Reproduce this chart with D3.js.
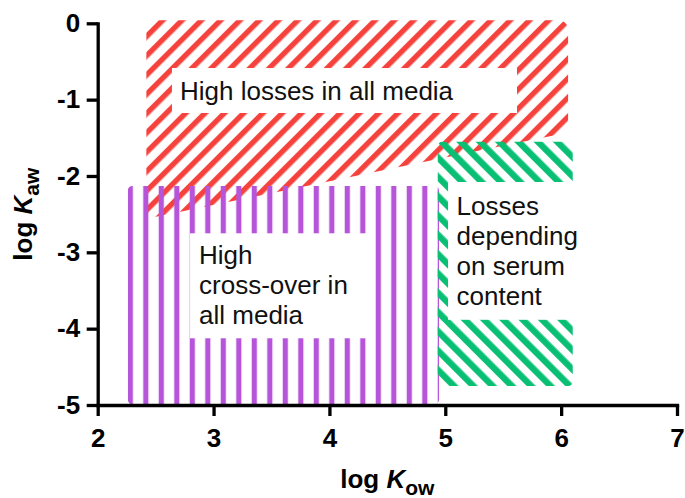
<!DOCTYPE html>
<html>
<head>
<meta charset="utf-8">
<script src="https://cdn.jsdelivr.net/npm/d3@7"></script>
<style>
  html, body { margin: 0; padding: 0; background: #fff; }
  svg { display: block; font-family: "Liberation Sans", Arial, Helvetica, sans-serif; }
</style>
</head>
<body>
<svg id="chart" width="685" height="498"></svg>
<script>
// Axis domains and tick values
const xDomain = [2, 7];
const yDomain = [-5, 0];
const xTicks = [2, 3, 4, 5, 6, 7];
const yTicks = [0, -1, -2, -3, -4, -5];

// Regions as polygons of (log Kow, log Kaw) corners
const lossRegion = [[2.42, 0.04], [6.06, 0.04], [6.06, -1.43], [2.42, -2.56]];
const crossRegion = [[2.26, -2.13], [4.946, -2.13], [4.946, -4.99], [2.26, -4.99]];
const serumRegion = [[4.935, -1.55], [6.10, -1.55], [6.10, -4.75], [4.935, -4.75]];

// Label boxes as [xMin, yMax, xMax, yMin] in axis units, with their lines of text
const lossBox = [2.641, -0.586, 5.619, -1.175];
const crossBox = [2.797, -2.751, 4.379, -4.126];
const serumBox = [5.024, -2.079, 6.13, -3.884];
const lossLabel = ["High losses in all media"];
const crossLabel = ["High", "cross-over in", "all media"];
const serumLabel = ["Losses", "depending", "on serum", "content"];

const svg = d3.select("#chart");

const x = d3.scaleLinear().domain(xDomain).range([97.7, 677]);
const y = d3.scaleLinear().domain(yDomain).range([405, 23.3]);

// Hatch patterns
const defs = svg.append("defs");
function stripes(id, color, period, width, offset, angle) {
  const p = defs.append("pattern")
    .attr("id", id)
    .attr("patternUnits", "userSpaceOnUse")
    .attr("width", period)
    .attr("height", 20);
  if (angle) p.attr("patternTransform", `rotate(${angle})`);
  [0, -period].forEach(shift => {
    p.append("rect")
      .attr("x", offset - width / 2 + shift)
      .attr("y", 0)
      .attr("width", width)
      .attr("height", 20)
      .attr("fill", color);
  });
}
stripes("hatch-red", "#f5423c", 13.65, 5.4, 6.55, 45);
stripes("hatch-purple", "#b655d9", 15.5, 5.2, 6.3, 0);
stripes("hatch-green", "#08bf74", 13.65, 6.4, 7.15, -45);

// Polygon with softened corners
function roundedPath(pts, r) {
  const n = pts.length;
  let d = "";
  for (let i = 0; i < n; i++) {
    const p0 = pts[(i - 1 + n) % n], p1 = pts[i], p2 = pts[(i + 1) % n];
    const l1 = Math.hypot(p0[0] - p1[0], p0[1] - p1[1]);
    const l2 = Math.hypot(p2[0] - p1[0], p2[1] - p1[1]);
    const a = [p1[0] + (p0[0] - p1[0]) / l1 * r, p1[1] + (p0[1] - p1[1]) / l1 * r];
    const b = [p1[0] + (p2[0] - p1[0]) / l2 * r, p1[1] + (p2[1] - p1[1]) / l2 * r];
    d += (i === 0 ? "M" : "L") + a[0] + "," + a[1] + "Q" + p1[0] + "," + p1[1] + " " + b[0] + "," + b[1];
  }
  return d + "Z";
}
const toPx = pts => pts.map(p => [x(p[0]), y(p[1])]);

const regions = svg.append("g");
regions.append("path").attr("d", roundedPath(toPx(lossRegion), 11)).attr("fill", "url(#hatch-red)");
regions.append("path").attr("d", roundedPath(toPx(crossRegion), 5)).attr("fill", "url(#hatch-purple)");
regions.append("path").attr("d", roundedPath(toPx(serumRegion), 5)).attr("fill", "url(#hatch-green)");

// White label boxes
function labelBox(box, lines, padX, firstBaseline) {
  const g = svg.append("g");
  g.append("rect")
    .attr("x", x(box[0]))
    .attr("y", y(box[1]))
    .attr("width", x(box[2]) - x(box[0]))
    .attr("height", y(box[3]) - y(box[1]))
    .attr("fill", "#fff");
  g.append("text")
    .attr("font-size", 26)
    .attr("fill", "#111")
    .selectAll("tspan")
    .data(lines)
    .join("tspan")
    .attr("x", x(box[0]) + padX)
    .attr("y", (d, i) => y(box[1]) + firstBaseline + i * 30)
    .text(d => d);
}
labelBox(lossBox, lossLabel, 8, 32);
labelBox(crossBox, crossLabel, 9, 31);
labelBox(serumBox, serumLabel, 8.5, 33);

// Axes
const xAxis = svg.append("g")
  .attr("transform", `translate(0,${y(-5)})`)
  .call(d3.axisBottom(x).tickValues(xTicks).tickFormat(d3.format("d"))
    .tickSize(11).tickSizeOuter(0).tickPadding(13));
const yAxis = svg.append("g")
  .attr("transform", `translate(${x(2)},0)`)
  .call(d3.axisLeft(y).tickValues(yTicks).tickFormat(d3.format("d"))
    .tickSize(11).tickSizeOuter(0).tickPadding(6.5));

[xAxis, yAxis].forEach(a => {
  a.select(".domain").attr("stroke", "#000").attr("stroke-width", 3.3).attr("stroke-linecap", "square");
  a.selectAll(".tick line").attr("stroke", "#000").attr("stroke-width", 3.3);
  a.selectAll(".tick text")
    .attr("fill", "#000")
    .attr("font-size", 26)
    .attr("font-weight", "bold")
    .attr("font-family", "'Liberation Sans', Arial, sans-serif");
});
// plain hyphen for negative tick labels
yAxis.selectAll(".tick text").text(d => String(d).replace("\u2212", "-"));

// Axis titles
const xTitle = svg.append("text")
  .attr("x", (x(2) + x(7)) / 2)
  .attr("y", 488)
  .attr("text-anchor", "middle")
  .attr("font-size", 26)
  .attr("font-weight", "bold");
xTitle.append("tspan").text("log ");
xTitle.append("tspan").attr("font-style", "italic").text("K");
xTitle.append("tspan").attr("font-size", 21).attr("dy", 7).text("ow");

const yTitle = svg.append("text")
  .attr("transform", `translate(32,${(y(0) + y(-5)) / 2}) rotate(-90)`)
  .attr("text-anchor", "middle")
  .attr("font-size", 26)
  .attr("font-weight", "bold");
yTitle.append("tspan").text("log ");
yTitle.append("tspan").attr("font-style", "italic").text("K");
yTitle.append("tspan").attr("font-size", 21).attr("dy", 7).text("aw");
</script>
</body>
</html>
